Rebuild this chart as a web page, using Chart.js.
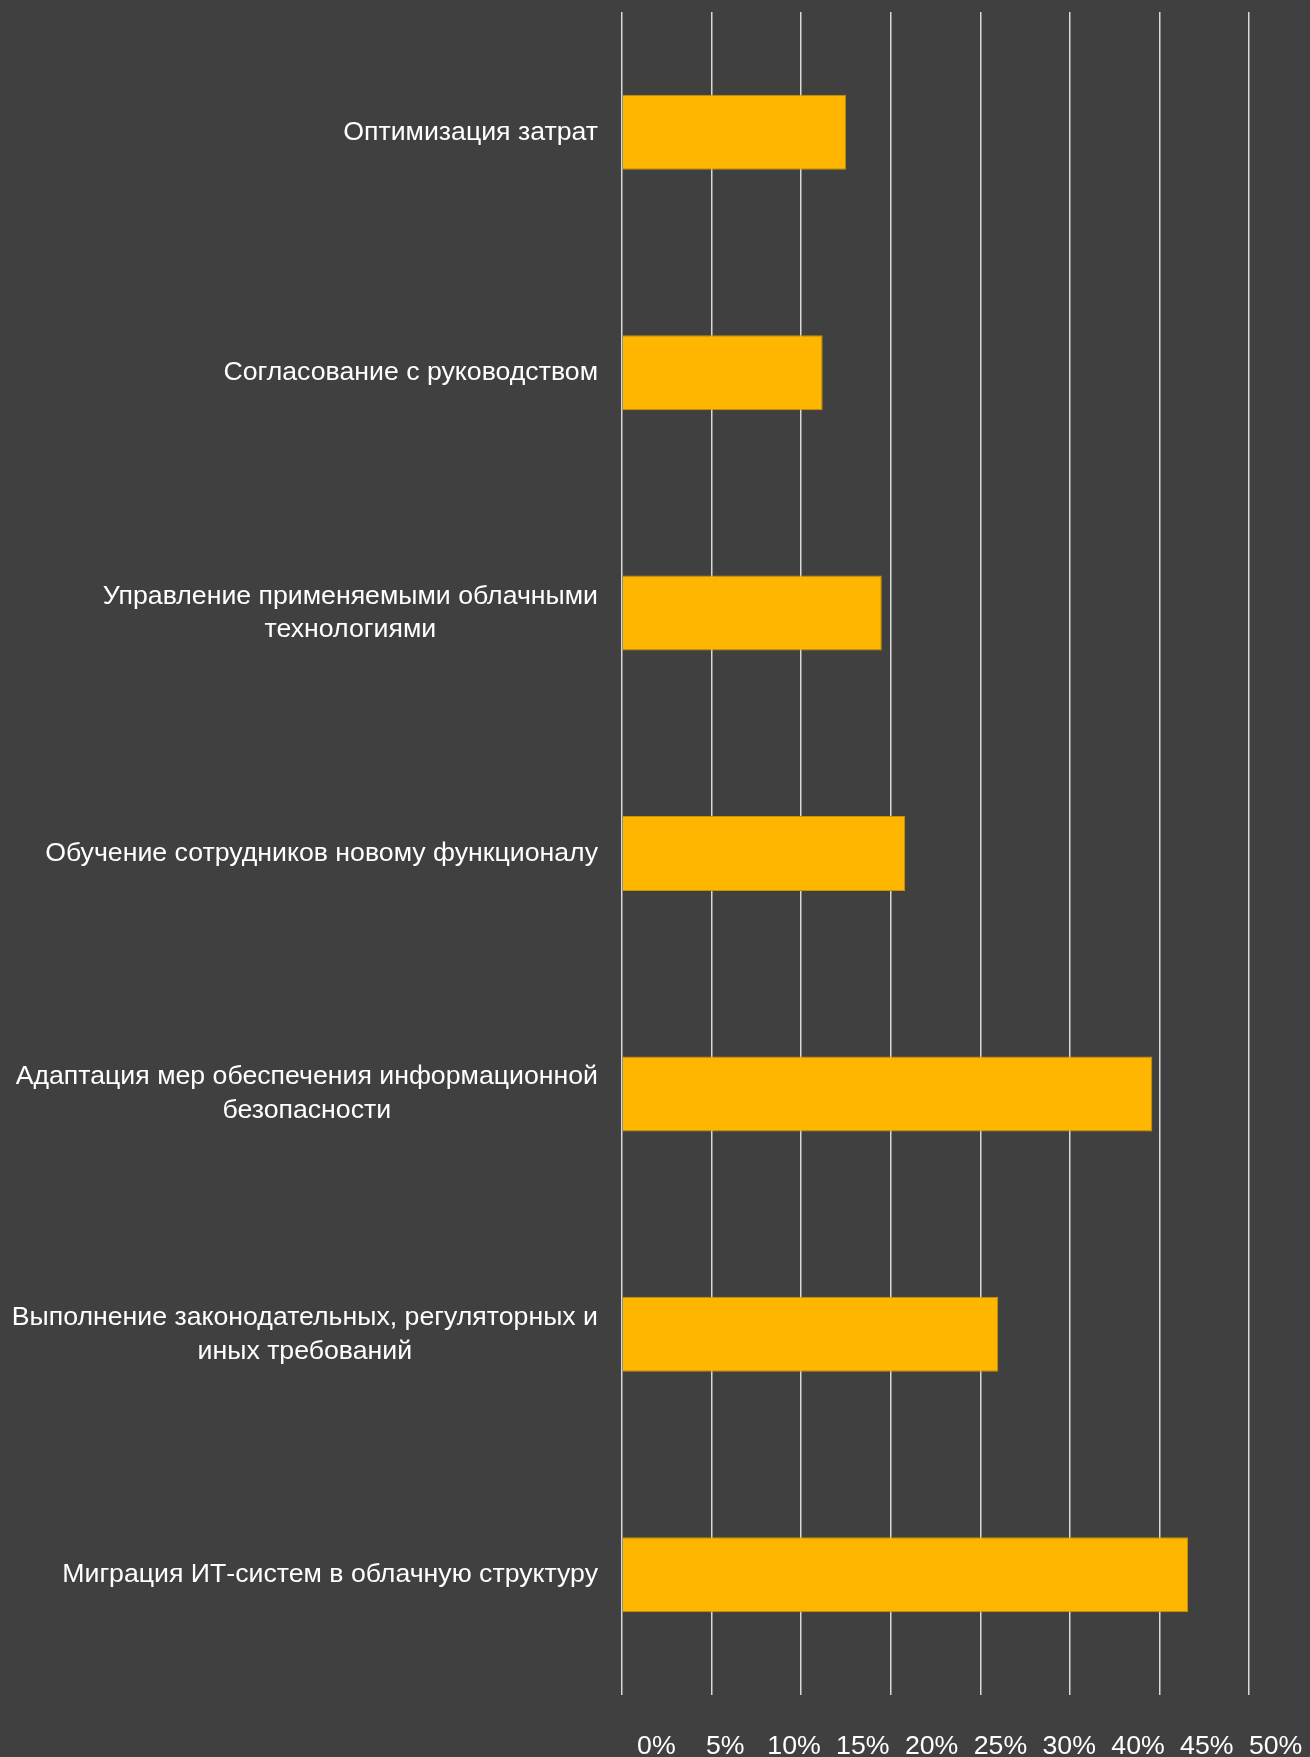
<!DOCTYPE html>
<html>
<head>
<meta charset="utf-8">
<script src="https://cdn.jsdelivr.net/npm/chart.js@4"></script>
<style>
    html, body { margin:0; padding:0; background:#404040; }
    canvas { display:block; }
</style>
</head>
<body>
<canvas id="tasksChart" width="1310" height="1757"></canvas>
<script>
const categories = [
    "Оптимизация затрат",
    "Согласование с руководством",
    ["Управление применяемыми облачными", "технологиями"],
    "Обучение сотрудников новому функционалу",
    ["Адаптация мер обеспечения информационной", "безопасности"],
    ["Выполнение законодательных, регуляторных и", "иных требований"],
    "Миграция ИТ-систем в облачную структуру"
]
const shareValues = [12.5, 11.2, 14.5, 15.8, 29.6, 21.0, 31.6]
const tickLabels = ["0%", "5%", "10%", "15%", "20%", "25%", "30%", "40%", "45%", "50%"]

const labelFont = '26.7px "Liberation Sans", Arial, sans-serif'

// category labels: block right-aligned to the axis, lines centred inside the block
const categoryLabels = {
    id:'categoryLabels',
    afterDraw(chart){
        const ctx = chart.ctx
        const yScale = chart.scales.y
        const right = chart.chartArea.left - 24
        const lineHeight = 33.6
        ctx.save()
        ctx.font = labelFont
        ctx.fillStyle = '#ffffff'
        ctx.textAlign = 'center'
        ctx.textBaseline = 'middle'
        categories.forEach((label, i)=>{
            const lines = Array.isArray(label) ? label : [label]
            const widest = Math.max(...lines.map(l=>ctx.measureText(l).width))
            const cx = right - widest/2
            const cy = yScale.getPixelForTick(i)
            lines.forEach((line, j)=>{
                ctx.fillText(line, cx, cy + (j - (lines.length-1)/2)*lineHeight)
            })
        })
        ctx.restore()
    }
}

new Chart(document.getElementById('tasksChart'), {
    type:'bar',
    data:{
        labels:categories,
        datasets:[{
            data:shareValues,
            backgroundColor:'#FFB600',
            borderColor:'#C99200',
            borderWidth:1,
            categoryPercentage:1,
            barPercentage:0.312
        }]
    },
    options:{
        indexAxis:'y',
        responsive:false,
        animation:false,
        layout:{ padding:{ top:12, left:0, right:0, bottom:0 } },
        plugins:{
            legend:{ display:false },
            tooltip:{ enabled:false }
        },
        scales:{
            y:{
                ticks:{ display:false },
                grid:{ display:false },
                border:{ display:false },
                afterFit(scale){ scale.width = 622 }
            },
            x:{
                type:'linear',
                position:'bottom',
                min:0,
                max:38.4,
                ticks:{ display:false, stepSize:5, includeBounds:false },
                grid:{ color:'#d9d9d9', lineWidth:1.5, drawTicks:false },
                border:{ display:false },
                afterFit(scale){
                    scale.height = 0
                    scale.paddingLeft = 0
                    scale.paddingRight = 0
                }
            },
            x2:{
                type:'category',
                position:'bottom',
                labels:tickLabels,
                offset:true,
                grid:{ display:false, drawTicks:false },
                border:{ display:false },
                ticks:{
                    color:'#ffffff',
                    font:{ family:'"Liberation Sans", Arial, sans-serif', size:26.7 },
                    padding:36,
                    maxRotation:0,
                    autoSkip:false
                },
                afterFit(scale){
                    scale.height = 62
                    scale.paddingLeft = 0
                    scale.paddingRight = 0
                }
            }
        }
    },
    plugins:[categoryLabels]
})
</script>
</body>
</html>
